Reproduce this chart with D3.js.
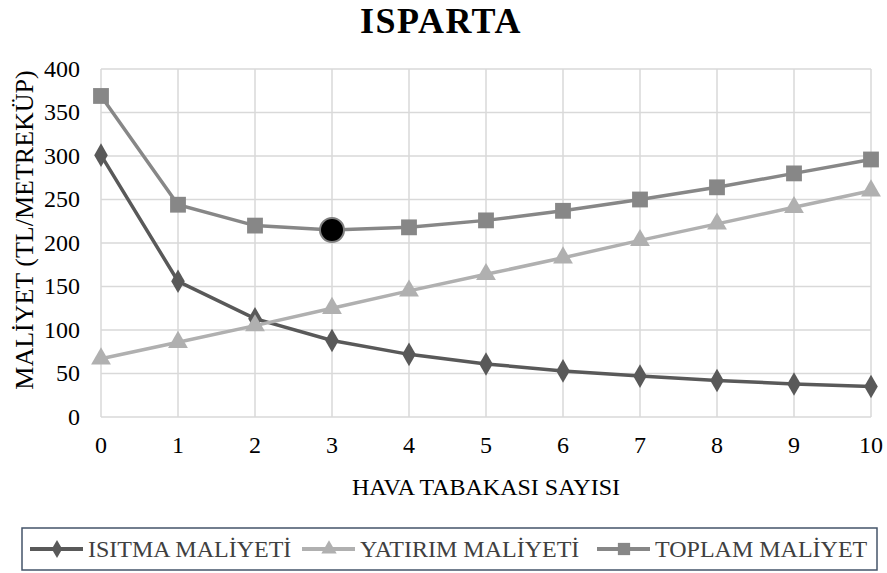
<!DOCTYPE html>
<html>
<head>
<meta charset="utf-8">
<script src="https://cdn.jsdelivr.net/npm/d3@7"></script>
<style>
  body { margin: 0; background: #fff; }
  svg text { font-family: "Liberation Serif", "Times New Roman", Times, serif; }
</style>
</head>
<body>
<div id="chart"></div>
<script>
// data
var katman = [0, 1, 2, 3, 4, 5, 6, 7, 8, 9, 10];
var isitma = [301, 156, 113, 88, 72, 61, 53, 47, 42, 38, 35];
var yatirim = [67, 86, 105, 125, 145, 164, 183, 203, 222, 241, 260];
var toplam = [369, 244, 220, 215, 218, 226, 237, 250, 264, 280, 296];
var yTicks = [0, 50, 100, 150, 200, 250, 300, 350, 400];
var optimum = { x: 3, y: 215 };

var W = 887, H = 573;
var svg = d3.select("#chart").append("svg").attr("width", W).attr("height", H);

var x = d3.scaleLinear().domain([0, 10]).range([101, 871]);
var y = d3.scaleLinear().domain([0, 400]).range([417, 69]);

// gridlines
svg.append("g").selectAll("line").data(yTicks).enter().append("line")
  .attr("x1", x(0)).attr("x2", x(10))
  .attr("y1", function (d) { return y(d); }).attr("y2", function (d) { return y(d); })
  .attr("stroke", "#d9d9d9").attr("stroke-width", 1.5);
svg.append("g").selectAll("line").data(katman).enter().append("line")
  .attr("x1", function (d) { return x(d); }).attr("x2", function (d) { return x(d); })
  .attr("y1", y(0)).attr("y2", y(400))
  .attr("stroke", "#d9d9d9").attr("stroke-width", 1.5);

// tick labels
svg.append("g").selectAll("text").data(yTicks).enter().append("text")
  .attr("x", 80).attr("y", function (d) { return y(d); })
  .attr("dy", "0.33em").attr("text-anchor", "end")
  .style("font-size", "24px").attr("fill", "#000")
  .text(function (d) { return d; });
svg.append("g").selectAll("text").data(katman).enter().append("text")
  .attr("x", function (d) { return x(d); }).attr("y", 453)
  .attr("text-anchor", "middle")
  .style("font-size", "24px").attr("fill", "#000")
  .text(function (d) { return d; });

// titles
svg.append("text").attr("x", 441).attr("y", 33).attr("text-anchor", "middle")
  .style("font-size", "36px").style("font-weight", "bold").style("letter-spacing", "1.5px")
  .text("ISPARTA");
svg.append("text").attr("x", 486).attr("y", 495).attr("text-anchor", "middle")
  .style("font-size", "24px").text("HAVA TABAKASI SAYISI");
svg.append("text").attr("transform", "translate(33,230) rotate(-90)")
  .attr("text-anchor", "middle").style("font-size", "26px")
  .text("MALİYET (TL/METREKÜP)");

var series = [
  { name: "ISITMA MALİYETİ", values: isitma, color: "#595959", shape: d3.symbolDiamond, size: 160 },
  { name: "YATIRIM MALİYETİ", values: yatirim, color: "#b0b0b0", shape: d3.symbolTriangle, size: 170 },
  { name: "TOPLAM MALİYET", values: toplam, color: "#878787", shape: d3.symbolSquare, size: 250 }
];

var line = d3.line()
  .x(function (d, i) { return x(katman[i]); })
  .y(function (d) { return y(d); });

series.forEach(function (s) {
  svg.append("path").datum(s.values)
    .attr("d", line).attr("fill", "none")
    .attr("stroke", s.color).attr("stroke-width", 3.5);
  svg.append("g").selectAll("path").data(s.values).enter().append("path")
    .attr("d", d3.symbol().type(s.shape).size(s.size))
    .attr("transform", function (d, i) { return "translate(" + x(katman[i]) + "," + y(d) + ")"; })
    .attr("fill", s.color);
});

// optimum point
svg.append("circle").attr("cx", x(optimum.x)).attr("cy", y(optimum.y)).attr("r", 12)
  .attr("fill", "#000").attr("stroke", "#808080").attr("stroke-width", 2);

// legend
svg.append("rect").attr("x", 22).attr("y", 528).attr("width", 855).attr("height", 42)
  .attr("fill", "#fff").attr("stroke", "#44546a").attr("stroke-width", 1.5);
var legendX = [30, 302, 597];
series.forEach(function (s, i) {
  var lx = legendX[i], ly = 549;
  svg.append("line").attr("x1", lx).attr("x2", lx + 53).attr("y1", ly).attr("y2", ly)
    .attr("stroke", s.color).attr("stroke-width", 4);
  svg.append("path").attr("d", d3.symbol().type(s.shape).size(s.size * 0.6))
    .attr("transform", "translate(" + (lx + 27) + "," + ly + ")").attr("fill", s.color);
  svg.append("text").attr("x", lx + 58).attr("y", ly).attr("dy", "0.35em")
    .style("font-size", "24px").attr("fill", "#404040").text(s.name);
});
</script>
</body>
</html>
